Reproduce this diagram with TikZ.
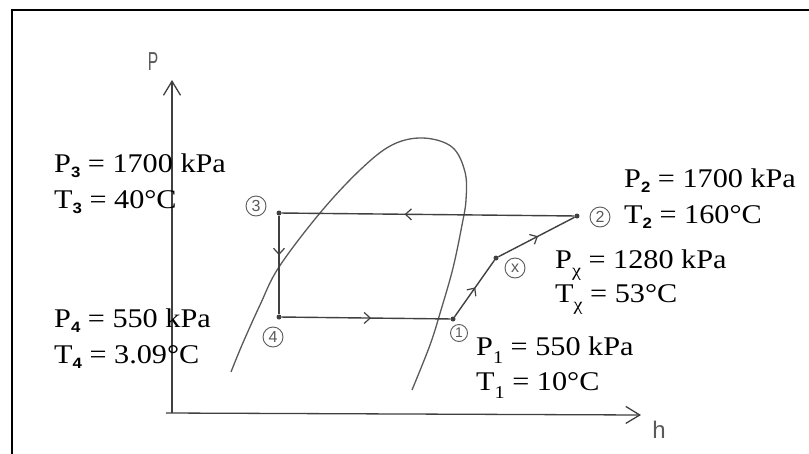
\documentclass[tikz,border=0pt]{standalone}
\usepackage{fontspec}
\setmainfont{Liberation Serif}
\setsansfont{Liberation Sans}
\usetikzlibrary{arrows.meta,decorations.markings}
\newcommand\bsub[1]{\raisebox{-0.22em}{\fontsize{15}{15}\selectfont\sffamily\bfseries #1}}
\newcommand\nsub[1]{\raisebox{-0.3em}{\fontsize{18}{18}\selectfont #1}}
\newcommand\wide[1]{\scalebox{1.12}[1]{#1}}
\definecolor{pen}{HTML}{404040}
\definecolor{pencil}{HTML}{5A5A5A}
\tikzset{
  lbl/.style={anchor=base west, inner sep=0pt, font=\fontsize{27}{27}\selectfont},
  dot/.style={circle, fill=pen, inner sep=0pt, minimum size=5pt},
  cnum/.style={circle, draw=pencil, line width=0.9pt, inner sep=0pt, minimum size=20pt, text=pencil, font=\fontsize{16}{16}\selectfont\sffamily},
  hand/.style={text=pencil, inner sep=0pt, font=\fontsize{24}{24}\selectfont\sffamily},
  axis/.style={draw=pen, line width=1.3pt, -{Straight Barb[length=14pt,width=17pt,line width=1.3pt]}},
  flow/.style={draw=pen, line width=1.4pt, postaction={decorate}, decoration={markings,
      mark=at position #1 with {\arrow{Straight Barb[length=6pt,width=11pt,line width=1.2pt]}}}},
  flow/.default=0.5,
  dome/.style={draw=pencil, line width=1.3pt},
  frame/.style={draw=black, line width=2pt}
}
\begin{document}
\begin{tikzpicture}[x=1pt,y=-1pt]
\useasboundingbox (0,0) rectangle (809,453);
\fill[white] (0,0) rectangle (809,453);
% frame
\draw[frame] (11.5,460) -- (11.5,10) -- (815,10);
% axes
\coordinate (o) at (172,413);
\coordinate (ytop) at (172,80);
\coordinate (xend) at (641,415);
\draw[axis] (o) -- (ytop);
\draw[axis] (166,413) -- (xend);
\node[hand, font=\fontsize{26}{26}\selectfont\sffamily, xscale=0.6] (plbl) at (153,62) {P};
\node[hand] (hlbl) at (659,430) {h};
% saturation dome
\draw[dome] plot[smooth, tension=0.6] coordinates {(231,372) (242,345) (260,305) (279,267) (320,213) (360,170) (392,145) (423,138) (452,147) (465,172) (466,200) (462,225) (453,268) (441,310) (430,345) (412,390)};
% state points
\node[dot] (p3) at (279,213) {};
\node[dot] (p2) at (577,216) {};
\node[dot] (p4) at (279,317) {};
\node[dot] (p1) at (453,319) {};
\node[dot] (px) at (496,258) {};
% cycle
\draw[flow=0.58] (p2) -- (p3);
\draw[flow=0.4] (p3) -- (p4);
\draw[flow=0.53] (p4) -- (p1);
\draw[flow=0.52] (p1) -- (px);
\draw[flow=0.52] (px) -- (p2);
% circled numbers
\node[cnum] (c3) at (256,206) {3};
\node[cnum] (c4) at (273,337) {4};
\node[cnum] (c2) at (600,217) {2};
\node[cnum] (cx) at (515,268) {x};
\node[cnum, minimum size=17pt, font=\fontsize{14}{14}\selectfont\sffamily] (c1) at (459,333) {1};
% labels
\node[lbl] (P3) at (54,172) {\wide{P\bsub{3} = 1700 kPa}};
\node[lbl] (T3) at (54,208) {\wide{T\bsub{3} = 40°C}};
\node[lbl] (P2) at (624,187) {\wide{P\bsub{2} = 1700 kPa}};
\node[lbl] (T2) at (624,223) {\wide{T\bsub{2} = 160°C}};
\node[lbl] (Px) at (555,268) {\wide{P\nsub{χ} = 1280 kPa}};
\node[lbl] (Tx) at (555,302) {\wide{T\nsub{χ} = 53°C}};
\node[lbl] (P4) at (54,327) {\wide{P\bsub{4} = 550 kPa}};
\node[lbl] (T4) at (54,363) {\wide{T\bsub{4} = 3.09°C}};
\node[lbl] (P1) at (476,355) {\wide{P\nsub{1} = 550 kPa}};
\node[lbl] (T1) at (476,390) {\wide{T\nsub{1} = 10°C}};
\end{tikzpicture}
\end{document}
